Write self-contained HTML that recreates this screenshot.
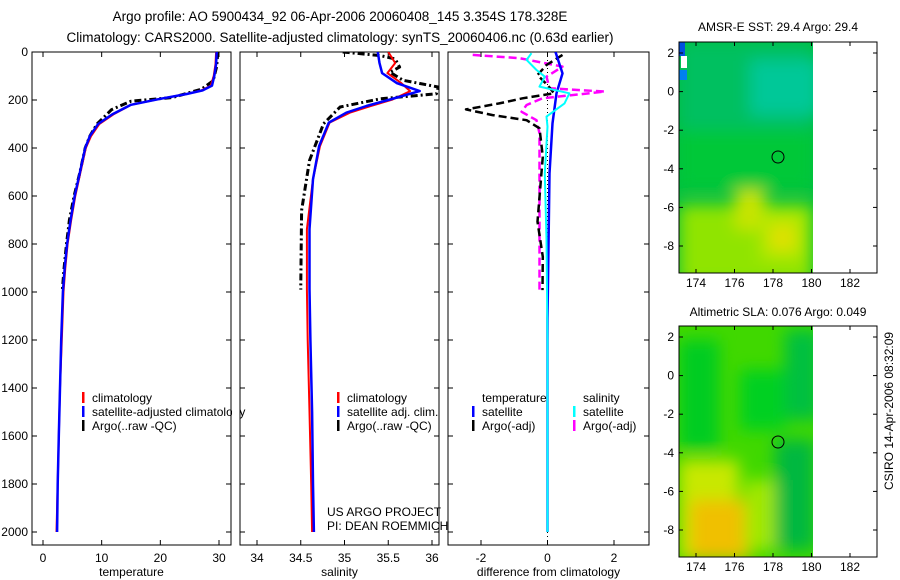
<!DOCTYPE html>
<html><head><meta charset="utf-8"><style>
body{margin:0;background:#fff;}
svg{display:block;font-family:"Liberation Sans",sans-serif;}
text{fill:#000;}
</style></head><body>
<svg id="fig" width="900" height="580" viewBox="0 0 900 580">
<defs>
<clipPath id="c1"><rect x="32" y="52" width="199" height="493"/></clipPath>
<clipPath id="c2"><rect x="240" y="52" width="199" height="493"/></clipPath>
<clipPath id="c3"><rect x="448" y="52" width="201" height="493"/></clipPath>
<clipPath id="m1"><rect x="679" y="42" width="134" height="231"/></clipPath>
<clipPath id="m2"><rect x="679" y="326" width="134" height="231"/></clipPath>
<filter id="bl"><feGaussianBlur stdDeviation="8"/></filter>
</defs>
<text x="340" y="21" font-size="13.5" text-anchor="middle">Argo profile: AO 5900434_92 06-Apr-2006 20060408_145 3.354S 178.328E</text>
<text x="340" y="42" font-size="13.5" text-anchor="middle">Climatology: CARS2000. Satellite-adjusted climatology: synTS_20060406.nc (0.63d earlier)</text>

<!-- SST map -->
<g>
<g clip-path="url(#m1)">
<rect x="679" y="42" width="134" height="231" fill="#00c040"/>
<g filter="url(#bl)">
<rect x="679" y="42" width="134" height="90" fill="#00c060"/>
<rect x="750" y="60" width="70" height="55" fill="#00c898"/>
<rect x="679" y="130" width="134" height="60" fill="#00c838"/>
<rect x="679" y="205" width="134" height="80" fill="#90e400"/>
<rect x="735" y="190" width="30" height="40" fill="#c8e400"/>
<rect x="760" y="210" width="45" height="50" fill="#b0e800"/>
<rect x="770" y="225" width="25" height="25" fill="#e0e000"/>
</g>
<rect x="679" y="42" width="6" height="14" fill="#0050e0"/>
<rect x="681" y="56" width="6" height="12" fill="#fff"/>
<rect x="679" y="70" width="8" height="10" fill="#0080f0"/>
</g>
<rect x="679" y="42" width="198" height="231" fill="none" stroke="#000"/>
<circle cx="778" cy="157" r="6" fill="none" stroke="#000"/>
<text x="778" y="31" font-size="12" text-anchor="middle">AMSR-E SST: 29.4 Argo: 29.4</text>
</g>

<!-- SLA map -->
<g>
<g clip-path="url(#m2)">
<rect x="679" y="326" width="134" height="231" fill="#40d800"/>
<g filter="url(#bl)">
<rect x="679" y="340" width="40" height="110" fill="#00cc20"/>
<rect x="740" y="370" width="45" height="60" fill="#00d020"/>
<rect x="785" y="330" width="35" height="90" fill="#00c040"/>
<rect x="775" y="440" width="40" height="110" fill="#00b840"/>
<rect x="679" y="460" width="60" height="100" fill="#c8e800"/>
<rect x="690" y="500" width="60" height="60" fill="#f0c000"/>
<rect x="745" y="480" width="30" height="70" fill="#a0e800"/>
</g>
</g>
<rect x="679" y="326" width="198" height="231" fill="none" stroke="#000"/>
<circle cx="778" cy="442" r="6" fill="none" stroke="#000"/>
<text x="778" y="316" font-size="12" text-anchor="middle">Altimetric SLA: 0.076 Argo: 0.049</text>
</g>
<text x="0" y="0" font-size="12" transform="translate(893,490) rotate(-90)">CSIRO 14-Apr-2006 08:32:09</text>

<g id="plots"></g>
</svg>
<script>
// depth axis
const depthTicks = [0,200,400,600,800,1000,1200,1400,1600,1800,2000];
// temperature panel
const tTicks = [0,10,20,30];
const tDepth = [0,50,100,140,160,175,195,220,260,300,350,400,500,600,700,800,900,1000,1200,1400,1600,1800,2000];
const tClim  = [29.5,29.4,29.1,28.6,27,24.5,20,15,12,9.6,8.2,7.3,6.4,5.5,4.8,4.2,3.8,3.5,3.2,2.9,2.7,2.5,2.3];
const tSat   = [29.6,29.5,29.2,28.8,27.2,24.5,20,15,11.8,9.4,8,7.2,6.3,5.4,4.7,4.1,3.7,3.4,3.1,2.9,2.7,2.5,2.4];
const tArgoDepth = [0,60,120,155,190,205,240,300,350,400,500,600,700,800,900,990];
const tArgo = [29.8,29.6,29,27,22,15,11.7,9.2,8,7.2,6.3,5.3,4.5,4,3.6,3.3];
// salinity panel
const sTicks = [34,34.5,35,35.5,36];
const sTickLabels = ["34","34.5","35","35.5","36"];
const sDepth = [0,46,88,130,163,198,225,253,294,392,530,738,988,1200,1500,1800,2000];
const sClim = [35.5,35.58,35.49,35.65,35.75,35.55,35.3,35.06,34.83,34.72,34.64,34.57,34.57,34.58,34.6,34.62,34.63];
const sSat  = [35.38,35.4,35.43,35.6,35.86,35.52,35.25,35.02,34.82,34.71,34.64,34.6,34.6,34.61,34.63,34.64,34.65];
const sArgoDepth = [0,15,29,63,84,118,146,174,195,229,299,452,660,965,990];
const sArgo = [34.98,35.41,35.58,35.63,35.52,35.67,36.07,36.05,35.41,34.95,34.76,34.6,34.51,34.5,34.5];
// difference panel
const dTicks = [-2,0,2];
const dTSatDepth = [0,89,172,297,506,1110,2000];
const dTSat = [0.24,0.45,0.27,0.15,0.06,0.0,0.0];
const dTArgoDepth = [12,54,96,138,172,193,214,239,263,284,318,436,707,853,992];
const dTArgo = [0.45,-0.03,-0.3,0,0.2,-0.75,-1.45,-2.45,-1.65,-0.63,-0.24,-0.14,-0.3,-0.14,-0.15];
const dSSatDepth = [5,33,75,103,144,172,214,269,311,506,783,1200,2000];
const dSSat = [-0.48,-0.63,-0.33,-0.08,-0.24,0.66,0.51,-0.03,0,-0.08,-0.03,0,0];
const dSArgoDepth = [12,26,61,103,151,165,193,221,249,284,339,645,992];
const dSArgo = [-2.25,-0.84,0.45,-0.03,0.06,1.72,-0.15,-0.63,-0.78,-0.33,-0.24,-0.24,-0.24];
// map ticks
const lonTicks = [174,176,178,180,182];
const latTicks = [2,0,-2,-4,-6,-8];

const NS='http://www.w3.org/2000/svg';
const root=document.getElementById('plots');
function mk(tag,attrs,parent){const e=document.createElementNS(NS,tag);for(const k in attrs)e.setAttribute(k,attrs[k]);(parent||root).appendChild(e);return e;}
const yD = d => 52 + d*0.24;
function xLin(v0,p0,v1,p1){return v=>p0+(v-v0)*(p1-p0)/(v1-v0);}
const xT = xLin(0,43,30,219);
const xS = xLin(34,257,36,432);
const xD = xLin(-2,481,2,614);

function frame(x0,x1,name,ticks,labels,xf,xlabel,showDepth){
  const g=mk('g',{});
  
  
  const r=mk('rect',{x:x0,y:52,width:x1-x0,height:493,fill:'none',stroke:'#000','stroke-width':1},g);
  
  
  ticks.forEach((t,i)=>{
    const x=xf(t);
    mk('line',{x1:x,x2:x,y1:52,y2:57,stroke:'#000'},g);
    mk('line',{x1:x,x2:x,y1:545,y2:540,stroke:'#000'},g);
    const tx=mk('text',{x:x,y:562,'font-size':12,'text-anchor':'middle'},g);
    tx.textContent=labels[i];
    
    
  });
  depthTicks.forEach(d=>{
    mk('line',{x1:x0,x2:x0+5,y1:yD(d),y2:yD(d),stroke:'#000'},g);
    mk('line',{x1:x1,x2:x1-5,y1:yD(d),y2:yD(d),stroke:'#000'},g);
    if(showDepth){
      const tx=mk('text',{x:x0-4,y:yD(d)+4,'font-size':12,'text-anchor':'end'},g);
      tx.textContent=d;
      
      
    }
  });
  const xl=mk('text',{x:(x0+x1)/2,y:576,'font-size':12,'text-anchor':'middle'},g);
  xl.textContent=xlabel;
  
  
}
function line(xs,ds,xf,color,w,dash,clip,name){
  const pts=xs.map((v,i)=>xf(v).toFixed(1)+','+yD(ds[i]).toFixed(1)).join(' ');
  const p=mk('polyline',{points:pts,fill:'none',stroke:color,'stroke-width':w,'stroke-dasharray':dash||'none','clip-path':'url(#'+clip+')','stroke-linejoin':'round'});
  
  
}
function legend(x,y,items){
  items.forEach((it,i)=>{
    const yy=y+i*14;
    if(it.c) mk('rect',{x:x,y:yy-10,width:2.5,height:11,fill:it.c});
    const t=mk('text',{x:x+10,y:yy,'font-size':12});
    t.textContent=it.t;
    
    
  });
}

frame(32,231,'temperature-panel',tTicks,tTicks.map(String),xT,'temperature',true);
frame(240,439,'salinity-panel',sTicks,sTickLabels,xS,'salinity',false);
frame(448,649,'difference-panel',dTicks,dTicks.map(String),xD,'difference from climatology',false);

line(tArgo,tArgoDepth,xT,'#000',3,'7,3,2,3','c1','temperature-argo-line');
line(tClim,tDepth,xT,'#f00',2,null,'c1','temperature-climatology-line');
line(tSat,tDepth,xT,'#00f',2.5,null,'c1','temperature-satellite-line');

line(sArgo,sArgoDepth,xS,'#000',3,'7,3,2,3','c2','salinity-argo-line');
line(sClim,sDepth,xS,'#f00',2,null,'c2','salinity-climatology-line');
line(sSat,sDepth,xS,'#00f',2.5,null,'c2','salinity-satellite-line');

mk('line',{x1:xD(0),x2:xD(0),y1:52,y2:545,stroke:'#000','stroke-dasharray':'1,3'});
line(dSArgo,dSArgoDepth,xD,'#f0f',2.5,'8,4','c3','salinity-argo-diff-line');
line(dTArgo,dTArgoDepth,xD,'#000',2.5,'8,4','c3','temperature-argo-diff-line');
line(dTSat,dTSatDepth,xD,'#00f',2.5,null,'c3','temperature-satellite-diff-line');
line(dSSat,dSSatDepth,xD,'#0ff',2,null,'c3','salinity-satellite-diff-line');

legend(82,402,[{c:'#f00',t:'climatology'},{c:'#00f',t:'satellite-adjusted climatology'},{c:'#000',t:'Argo(..raw -QC)'}]);
mk('rect',{x:232,y:408,width:7.5,height:14,fill:'#fff'});
legend(337,402,[{c:'#f00',t:'climatology'},{c:'#00f',t:'satellite adj. clim.'},{c:'#000',t:'Argo(..raw -QC)'}]);
legend(472,402,[{c:null,t:'temperature'},{c:'#00f',t:'satellite'},{c:'#000',t:'Argo(-adj)'}]);
legend(573,402,[{c:null,t:'salinity'},{c:'#0ff',t:'satellite'},{c:'#f0f',t:'Argo(-adj)'}]);
const p1=mk('text',{x:327,y:516,'font-size':12});p1.textContent='US ARGO PROJECT';


const p2=mk('text',{x:327,y:530,'font-size':12});p2.textContent='PI: DEAN ROEMMICH';



// map axes
const xLon = xLin(174,696,182,850);
[[42,273,53,38.6],[326,557,337,38.6]].forEach(([top,bot,y2,step])=>{
  lonTicks.forEach(l=>{
    const x=xLon(l);
    mk('line',{x1:x,x2:x,y1:top,y2:top+4,stroke:'#000'});
    mk('line',{x1:x,x2:x,y1:bot,y2:bot-4,stroke:'#000'});
    const t=mk('text',{x:x,y:bot+14,'font-size':12,'text-anchor':'middle'});
    t.textContent=l;
    
    
  });
  latTicks.forEach(v=>{
    const y=y2+(2-v)/2*step;
    mk('line',{x1:679,x2:683,y1:y,y2:y,stroke:'#000'});
    mk('line',{x1:877,x2:873,y1:y,y2:y,stroke:'#000'});
    const t=mk('text',{x:674,y:y+4,'font-size':12,'text-anchor':'end'});
    t.textContent=v;
    
    
  });
});
</script>
</body></html>
